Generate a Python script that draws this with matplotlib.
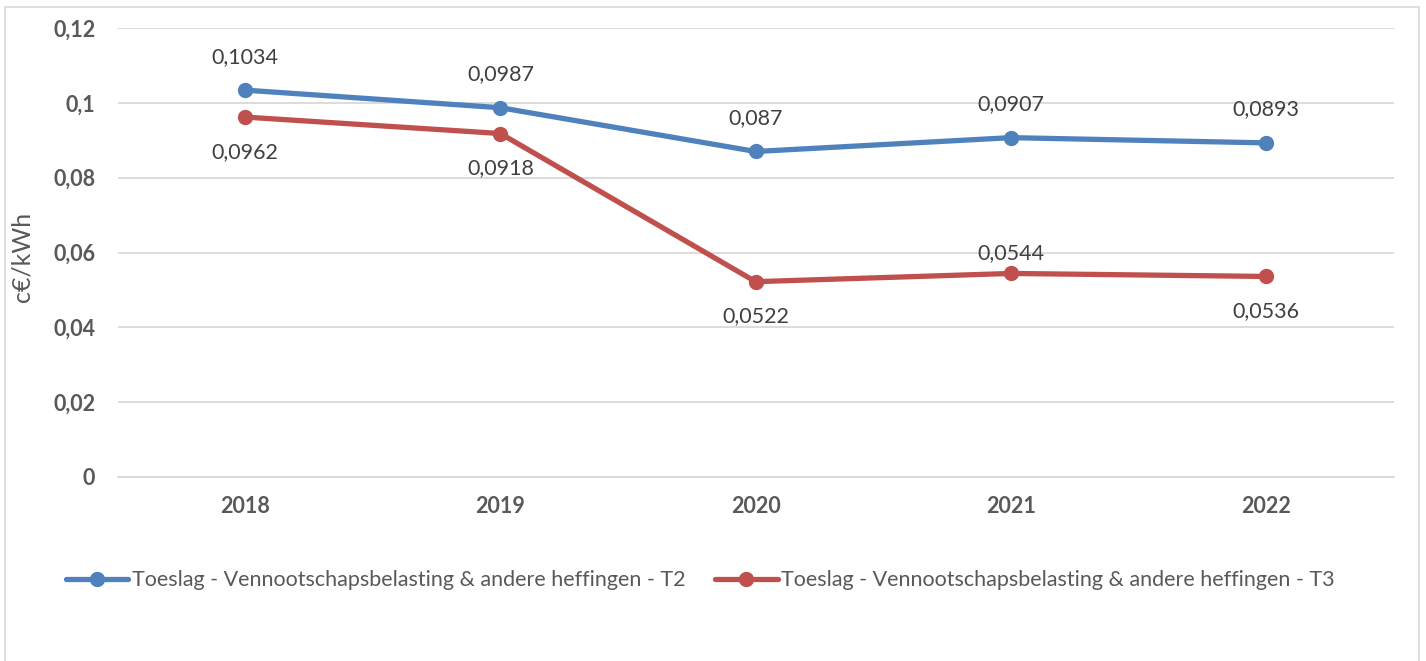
import numpy as np
import matplotlib.pyplot as plt
from matplotlib.patches import Rectangle

plt.rcParams['font.family'] = ['Lato', 'DejaVu Sans']

years = ["2018", "2019", "2020", "2021", "2022"]
t2 = [0.1034, 0.0987, 0.087, 0.0907, 0.0893]
t3 = [0.0962, 0.0918, 0.0522, 0.0544, 0.0536]
t3_above = [False, False, False, True, False]
yticks = [0, 0.02, 0.04, 0.06, 0.08, 0.1, 0.12]
ytick_labels = ["0", "0,02", "0,04", "0,06", "0,08", "0,1", "0,12"]
name_t2 = "Toeslag - Vennootschapsbelasting & andere heffingen - T2"
name_t3 = "Toeslag - Vennootschapsbelasting & andere heffingen - T3"

blue = "#4F81BD"
red = "#C0504D"
txt = "#404040"
grey = "#595959"

fig = plt.figure(figsize=(14.26, 6.61), dpi=100)
ax = fig.add_axes([0.0824, 0.2784, 0.895, 0.6792])

x = np.arange(len(years))
ax.plot(x, t2, color=blue, lw=3.8, marker='o', ms=10, label=name_t2,
        solid_capstyle='round', zorder=3)
ax.plot(x, t3, color=red, lw=3.8, marker='o', ms=10, label=name_t3,
        solid_capstyle='round', zorder=3)

def fmt(v):
    return ("%g" % v).replace('.', ',')

for i, v in enumerate(t2):
    ax.annotate(fmt(v), (x[i], v), xytext=(0, 24), textcoords='offset points',
                ha='center', va='center', fontsize=15.5, color=txt)
for i, v in enumerate(t3):
    # the 2021 label sits above the point, closer than the others
    off = 15 if t3_above[i] else -25
    ax.annotate(fmt(v), (x[i], v), xytext=(0, off), textcoords='offset points',
                ha='center', va='center', fontsize=15.5, color=txt)

ax.set_xlim(-0.5, len(years) - 0.5)
ax.set_ylim(0, 0.12)
ax.set_yticks(yticks)
ax.set_yticklabels(ytick_labels)
ax.set_xticks(x)
ax.set_xticklabels(years)
for lab in ax.get_xticklabels() + ax.get_yticklabels():
    lab.set_fontweight('bold')
    lab.set_fontsize(15.5)
    lab.set_color(grey)
ax.tick_params(length=0)
ax.tick_params(axis='x', pad=14)
ax.tick_params(axis='y', pad=16)
ax.grid(axis='y', color="#D9D9D9", lw=1.3)
ax.set_axisbelow(True)
for s in ['top', 'right', 'left']:
    ax.spines[s].set_visible(False)
ax.spines['bottom'].set_color("#D9D9D9")
ax.spines['bottom'].set_linewidth(1.3)

ax.set_ylabel("c€/kWh", fontsize=18, color=grey)
ax.yaxis.set_label_coords(-0.066, 0.49)

fig.legend(loc='center', bbox_to_anchor=(0.491, 0.122), ncol=2, frameon=False,
           fontsize=15.5, handlelength=2.9, handletextpad=0.15, columnspacing=1.4,
           labelcolor=grey)

fig.patches.append(Rectangle((5 / 1426, -0.01), 1414 / 1426, 1 - 7 / 661 + 0.01,
                             transform=fig.transFigure, fill=False,
                             edgecolor="#D9D9D9", lw=1.2))

fig.savefig("out.png", dpi=100)
